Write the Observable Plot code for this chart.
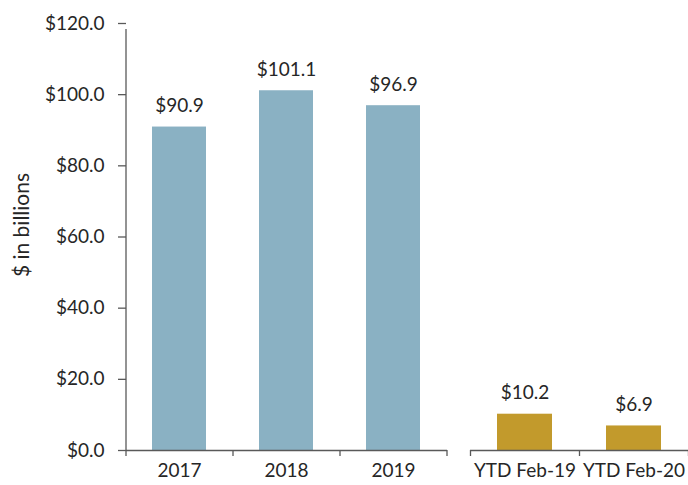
<!DOCTYPE html>
<html>
<head>
<meta charset="utf-8">
<script src="https://cdn.jsdelivr.net/npm/d3@7"></script>
<script src="https://cdn.jsdelivr.net/npm/@observablehq/plot@0.6"></script>
<style>
  html, body { margin: 0; padding: 0; background: #fff; }
  #chart { display: flex; width: 688px; height: 485px; }
  #chart svg { overflow: visible; }
</style>
</head>
<body>
<div id="chart"></div>
<script>
// Data
const annualCategories = ["2017", "2018", "2019"];
const annualValues = [90.9, 101.1, 96.9];
const ytdCategories = ["YTD Feb-19", "YTD Feb-20"];
const ytdValues = [10.2, 6.9];
const yTicks = [0, 20, 40, 60, 80, 100, 120];
const yLabel = "$ in billions";

const FONT = "Lato, 'Open Sans', sans-serif";
const TEXT = "#262626";
const AXIS = "#595959";
const BLUE = "#8AB1C3";
const GOLD = "#C29A2C";
const fmt = v => "$" + v.toFixed(1);

const H = 485, MT = 23, MB = 35;

function panel({cats, vals, color, width, marginLeft, withY}) {
  const data = cats.map((c, i) => ({cat: c, value: vals[i]}));
  const step = (width - marginLeft) / cats.length;
  const barFrac = 0.505;
  const marks = [
    Plot.barY(data, {x: "cat", y: "value", fill: color}),
    Plot.ruleY([0], {stroke: AXIS, strokeWidth: 1.3}),
    // category boundary ticks (Excel style)
    Plot.ruleX(cats, {x: d => d, y1: 0, y2: 0, insetBottom: -6, dx: -step / 2, stroke: AXIS, strokeWidth: 1.3}),
    Plot.ruleX([cats[cats.length - 1]], {x: d => d, y1: 0, y2: 0, insetBottom: -6, dx: step / 2, stroke: AXIS, strokeWidth: 1.3}),
    Plot.text(data, {x: "cat", y: "value", text: d => fmt(d.value), lineAnchor: "bottom", dy: -15, fontSize: 19, fill: TEXT}),
    Plot.axisX({tickSize: 0, tickPadding: 13, fontSize: 19, fill: TEXT, label: null})
  ];
  if (withY) {
    marks.push(
      Plot.ruleX([cats[0]], {x: d => d, y1: 0, y2: 120, insetBottom: -6, dx: -step / 2, stroke: AXIS, strokeWidth: 1.3}),
      Plot.axisY({ticks: yTicks, tickFormat: fmt, tickSize: 8, tickPadding: 14, fontSize: 19, fill: TEXT, stroke: AXIS, strokeWidth: 1.3, label: null}),
      Plot.text([yLabel], {frameAnchor: "left", textAnchor: "middle", text: d => d, rotate: -90, dx: -104, dy: -12, fontSize: 21, fill: TEXT})
    );
  }
  return Plot.plot({
    width, height: H,
    marginTop: MT, marginBottom: MB, marginLeft, marginRight: 0,
    style: {fontFamily: FONT, color: TEXT, background: "transparent", overflow: "visible"},
    x: {domain: cats, paddingInner: 1 - barFrac, paddingOuter: (1 - barFrac) / 2, axis: null},
    y: {domain: [0, 120], axis: null},
    marks
  });
}

const el = document.getElementById("chart");
el.appendChild(panel({cats: annualCategories, vals: annualValues, color: BLUE, width: 447, marginLeft: 126, withY: true}));
el.appendChild(panel({cats: ytdCategories, vals: ytdValues, color: GOLD, width: 241, marginLeft: 23, withY: false}));
</script>
</body>
</html>
